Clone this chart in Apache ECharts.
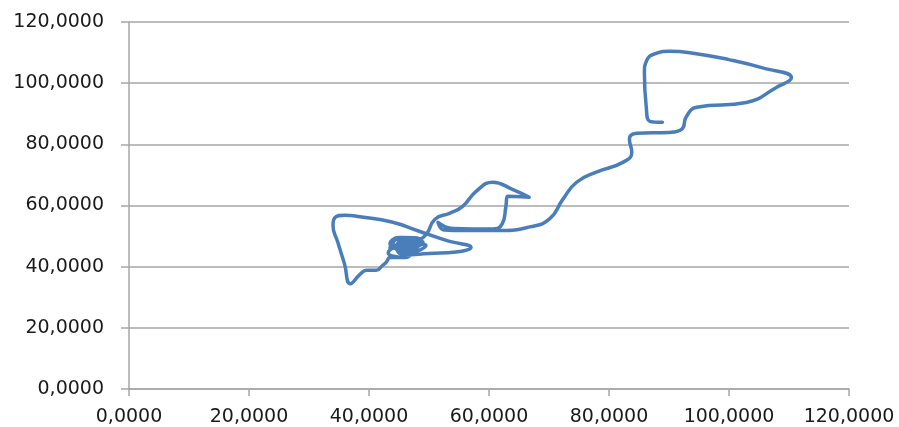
<!DOCTYPE html>
<html>
<head>
<meta charset="utf-8">
<script src="https://cdn.jsdelivr.net/npm/echarts@6/dist/echarts.min.js"></script>
<style>
  html, body { margin: 0; padding: 0; background: #fff; }
  #chart { width: 899px; height: 427px; }
</style>
</head>
<body>
<div id="chart"></div>
<script>
// Trajectory, in the order the points were recorded
const xValues = [
  45.0, 47.5, 44.5, 43.5, 48.0, 46.0, 43.2, 47.0, 49.5, 46.5, 44.0, 45.5, 48.5, 47.5, 44.5, 43.5,
  42.9, 42.2, 41.2, 39.6, 38.5, 36.9,
  35.9, 34.8, 34.0, 34.3, 36.0, 38.5, 43.8, 48.5, 53.0, 57.0,
  54.5, 50.0, 46.0, 44.5, 46.5, 49.0, 46.0, 43.5, 45.0, 48.0,
  49.5, 51.0, 53.5, 55.6, 57.9, 60.6, 63.9, 66.7, 63.1, 62.8, 62.2, 60.6,
  54.0, 51.5, 52.5, 56.0, 62.0, 66.8, 70.1, 72.3, 74.6, 77.9, 82.3, 83.8,
  83.4, 84.6, 90.0, 92.1, 92.9, 94.6, 102.9, 107.9, 110.4, 105.6, 100.0,
  94.0, 90.0, 87.6, 86.3, 85.9, 86.2, 86.8, 88.9
];
const yValues = [
  45.5, 48.5, 48.8, 46.0, 46.5, 43.0, 44.5, 47.5, 47.0, 44.5, 47.5, 49.5, 49.0, 45.0, 43.0, 43.0,
  41.5, 40.3, 38.8, 38.8, 37.5, 34.4,
  41.0, 48.0, 53.5, 56.0, 56.8, 56.3, 54.6, 51.5, 48.5, 46.3,
  44.8, 44.3, 43.8, 46.5, 48.5, 48.0, 45.5, 47.5, 49.5, 49.0,
  50.5, 55.5, 57.5, 59.7, 64.7, 67.6, 65.3, 62.7, 63.0, 59.4, 54.0, 52.3,
  52.5, 54.5, 52.0, 51.8, 51.8, 53.0, 55.6, 62.0, 67.6, 70.9, 74.1, 77.4,
  81.7, 83.6, 83.9, 84.9, 89.1, 92.1, 93.7, 98.6, 101.8, 105.0, 107.7,
  109.8, 110.4, 109.6, 107.5, 103.4, 92.4, 87.5, 87.2
];
const axisMin = 0;
const axisMax = 120;
const axisStep = 20;

const points = xValues.map((x, i) => [x, yValues[i]]);

// Comma as decimal separator, four decimals
const fmt = v => v.toFixed(4).replace('.', ',');

const gridColor = '#a6a6a6';
const labelStyle = {
  color: '#1a1a1a',
  fontFamily: 'DejaVu Sans',
  fontSize: 19,
  formatter: fmt
};

const chart = echarts.init(document.getElementById('chart'), null, { renderer: 'canvas' });
chart.setOption({
  animation: false,
  backgroundColor: '#ffffff',
  grid: { left: 129, right: 50, top: 22, bottom: 36, containLabel: false },
  xAxis: {
    type: 'value', min: axisMin, max: axisMax, interval: axisStep,
    axisLine: { show: true, lineStyle: { color: gridColor, width: 1.5 } },
    axisTick: { show: true, inside: false, length: 7, lineStyle: { color: gridColor, width: 1.5 } },
    splitLine: { show: false },
    axisLabel: Object.assign({ margin: 19 }, labelStyle)
  },
  yAxis: {
    type: 'value', min: axisMin, max: axisMax, interval: axisStep,
    axisLine: { show: true, lineStyle: { color: gridColor, width: 1.5 } },
    axisTick: { show: true, inside: false, length: 8, lineStyle: { color: gridColor, width: 1.5 } },
    splitLine: { show: true, lineStyle: { color: gridColor, width: 1.5 } },
    axisLabel: Object.assign({ margin: 25 }, labelStyle)
  },
  series: [{
    type: 'line',
    data: points,
    smooth: 0.5,
    showSymbol: false,
    lineStyle: { color: '#4a7ebb', width: 3.5, cap: 'round', join: 'round' }
  }]
});
</script>
</body>
</html>
